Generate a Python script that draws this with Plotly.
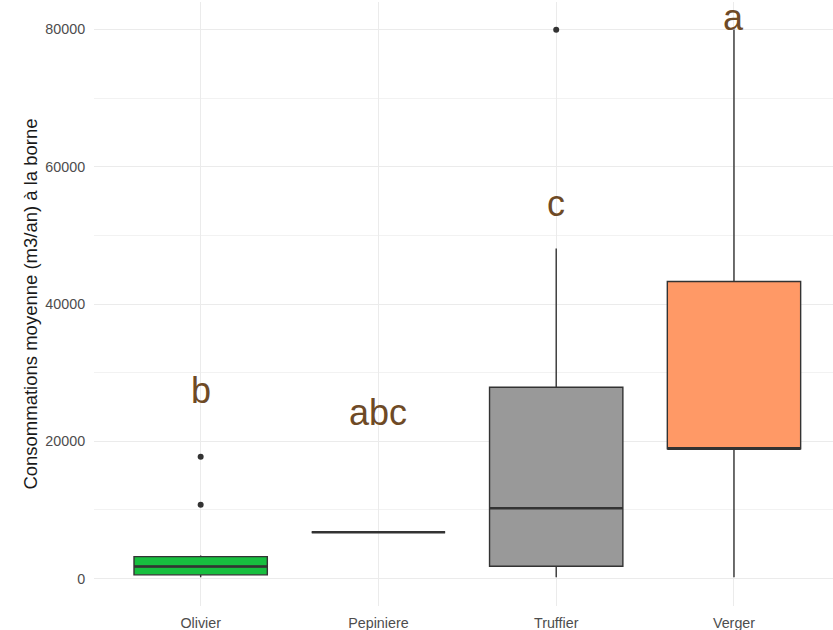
import plotly.graph_objects as go

# ---- data ----
categories = ["Olivier", "Pepiniere", "Truffier", "Verger"]
q1 = [540, 6750, 1790, 18900]
median = [1750, 6750, 10240, 18900]
q3 = [3200, 6750, 27880, 43280]
lower_whisker = [190, 6750, 190, 190]
upper_whisker = [3350, 6750, 48090, 80000]
fills = ["#17BF3F", "#FFFFFF", "#999999", "#FF9966"]

outlier_cat = ["Olivier", "Olivier", "Truffier"]
outlier_val = [17730, 10740, 79950]

letters = ["b", "abc", "c", "a"]
letter_y = [27400, 24200, 54700, 81800]

y_ticks = [0, 20000, 40000, 60000, 80000]

fig = go.Figure()

for i, cat in enumerate(categories):
    fig.add_trace(go.Box(
        x=[cat], q1=[q1[i]], median=[median[i]], q3=[q3[i]],
        lowerfence=[lower_whisker[i]], upperfence=[upper_whisker[i]],
        fillcolor=fills[i], line=dict(color="#333333", width=1.4),
        width=0.75, whiskerwidth=0, boxpoints=False, showlegend=False,
        hoverinfo="skip"))
    # thicker median line drawn as a flat box at the median
    fig.add_trace(go.Box(
        x=[cat], q1=[median[i]], median=[median[i]], q3=[median[i]],
        lowerfence=[median[i]], upperfence=[median[i]],
        fillcolor="rgba(0,0,0,0)", line=dict(color="#333333", width=2.6),
        width=0.75, whiskerwidth=0, boxpoints=False, showlegend=False,
        hoverinfo="skip"))

fig.add_trace(go.Scatter(
    x=outlier_cat, y=outlier_val, mode="markers",
    marker=dict(color="#333333", size=6), showlegend=False, hoverinfo="skip"))

for cat, lab, yv in zip(categories, letters, letter_y):
    fig.add_annotation(x=cat, y=yv, text=lab, showarrow=False,
                       xanchor="center", yanchor="middle",
                       font=dict(size=36, color="#6E4A26",
                                 family="Liberation Sans, Arial, sans-serif"))

fig.update_layout(
    width=833, height=630,
    margin=dict(l=94, r=0, t=2, b=24),
    plot_bgcolor="white", paper_bgcolor="white",
    boxmode="overlay",
    font=dict(family="Liberation Sans, Arial, sans-serif", size=14, color="#4D4D4D"),
    xaxis=dict(
        type="category", categoryorder="array", categoryarray=categories,
        range=[-0.6, 3.557], showgrid=True, gridcolor="#EBEBEB", gridwidth=1,
        zeroline=False, showline=False, ticks="outside", ticklen=4,
        tickcolor="rgba(0,0,0,0)", tickfont=dict(size=14.3, color="#4D4D4D"),
        automargin=False),
    yaxis=dict(
        range=[-4000, 84000], tickvals=y_ticks,
        ticktext=[str(v) for v in y_ticks],
        showgrid=True, gridcolor="#EBEBEB", gridwidth=1,
        minor=dict(dtick=10000, tick0=0, showgrid=True, gridcolor="#F2F2F2", gridwidth=0.8),
        zeroline=False, showline=False, ticks="outside", ticklen=5,
        tickcolor="rgba(0,0,0,0)", tickfont=dict(size=14.3, color="#4D4D4D"),
        automargin=False,
        title=dict(text="Consommations moyenne (m3/an) à la borne",
                   font=dict(size=18.5, color="#1A1A1A"), standoff=2)),
)

fig.write_html("out.html", config={"displayModeBar": False},
               post_script="document.body.style.margin='0';")
